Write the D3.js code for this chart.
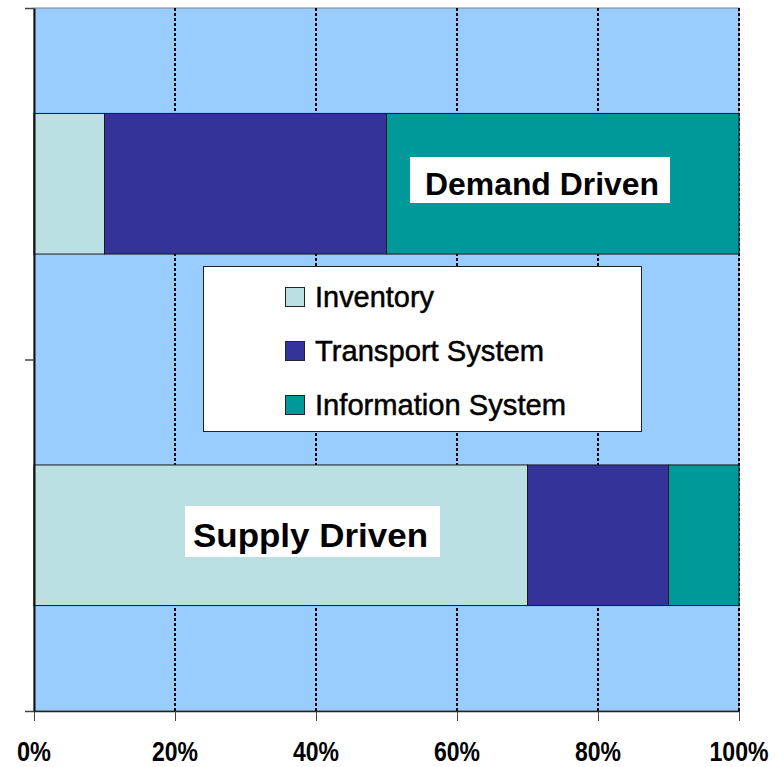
<!DOCTYPE html>
<html>
<head>
<meta charset="utf-8">
<script src="https://cdn.jsdelivr.net/npm/d3@7"></script>
<style>
  body { margin: 0; background: #fff; }
  text { font-family: "Liberation Sans", Arial, sans-serif; }
</style>
</head>
<body>
<div id="chart"></div>
<script>
// stacked 100% bar chart: supply vs demand driven
const categories = ["Demand Driven", "Supply Driven"];
const seriesNames = ["Inventory", "Transport System", "Information System"];
const inventory = [0.10, 0.70];
const transport = [0.40, 0.20];
const information = [0.50, 0.10];
const tickValues = [0, 0.2, 0.4, 0.6, 0.8, 1.0];
const tickLabels = ["0%", "20%", "40%", "60%", "80%", "100%"];

const width = 784;
const height = 767;
const colors = ["#BBE0E3", "#333399", "#009999"];

const svg = d3.select("#chart")
    .append("svg")
    .attr("width", width)
    .attr("height", height);

const xScale = d3.scaleLinear()
    .domain([0, 1])
    .range([34, 739]);

const yScale = d3.scaleBand()
    .domain(categories)
    .range([8, 711])
    .paddingInner(0.6)
    .paddingOuter(0.3);

// plot background
svg.append("rect")
    .attr("x", xScale(0))
    .attr("y", 8)
    .attr("width", xScale(1) - xScale(0))
    .attr("height", 711 - 8)
    .attr("fill", "#99CCFF")
    .attr("stroke", "#808080")
    .attr("stroke-width", 1);

// dotted gridlines
svg.selectAll(".grid")
    .data(tickValues.slice(1))
    .enter()
    .append("line")
    .attr("class", "grid")
    .attr("x1", d => xScale(d))
    .attr("x2", d => xScale(d))
    .attr("y1", 8)
    .attr("y2", 711)
    .attr("stroke", "#000")
    .attr("stroke-width", 2)
    .attr("stroke-dasharray", "3,2");

// stack the data
const rows = categories.map((c, i) => ({
    category: c,
    "Inventory": inventory[i],
    "Transport System": transport[i],
    "Information System": information[i]
}));
const stacked = d3.stack().keys(seriesNames)(rows);

svg.selectAll(".series")
    .data(stacked)
    .enter()
    .append("g")
    .attr("class", "series")
    .attr("fill", (d, i) => colors[i])
    .selectAll("rect")
    .data(d => d)
    .enter()
    .append("rect")
    .attr("x", d => xScale(d[0]))
    .attr("y", d => yScale(d.data.category))
    .attr("width", d => xScale(d[1]) - xScale(d[0]))
    .attr("height", yScale.bandwidth())
    .attr("stroke", "#1a1a1a")
    .attr("stroke-width", 1);

// axes
const xAxis = svg.append("g")
    .attr("transform", "translate(0,711)")
    .call(d3.axisBottom(xScale).tickValues(tickValues).tickSize(10).tickSizeOuter(0).tickFormat(""));
xAxis.select(".domain").attr("stroke", "#222").attr("stroke-width", 1.5);
xAxis.selectAll(".tick line").attr("stroke", "#444");

const catEdges = d3.scaleLinear().domain([0, categories.length]).range([8, 711]);
const yAxis = svg.append("g")
    .attr("transform", "translate(34,0)")
    .call(d3.axisLeft(catEdges).tickValues(d3.range(categories.length + 1)).tickSize(9).tickSizeOuter(0).tickFormat(""));
yAxis.select(".domain").attr("stroke", "#111").attr("stroke-width", 2);
yAxis.selectAll(".tick line").attr("stroke", "#444").attr("stroke-width", 1.5);

// tick labels
const labelWidths = [34, 46, 46, 46, 46, 59];
svg.selectAll(".xlabel")
    .data(tickLabels)
    .enter()
    .append("text")
    .attr("class", "xlabel")
    .attr("x", (d, i) => xScale(tickValues[i]))
    .attr("y", 761)
    .attr("text-anchor", "middle")
    .attr("font-size", 27)
    .attr("font-weight", "bold")
    .attr("textLength", (d, i) => labelWidths[i])
    .attr("lengthAdjust", "spacingAndGlyphs")
    .text(d => d);

// category labels in white boxes
const catLabels = [
    {x: 410, y: 157, w: 260, h: 46, tx: 425, tw: 234, size: 32},
    {x: 185, y: 506, w: 255, h: 51, tx: 193, tw: 235, size: 34}
];
categories.forEach((c, i) => {
    const b = catLabels[i];
    svg.append("rect")
        .attr("x", b.x).attr("y", b.y)
        .attr("width", b.w).attr("height", b.h)
        .attr("fill", "#fff");
    svg.append("text")
        .attr("x", b.tx)
        .attr("y", yScale(c) + yScale.bandwidth() / 2 + b.size * 0.36)
        .attr("font-size", b.size)
        .attr("font-weight", "bold")
        .attr("textLength", b.tw)
        .attr("lengthAdjust", "spacingAndGlyphs")
        .text(c);
});

// legend
svg.append("rect")
    .attr("x", 203.5).attr("y", 266.5)
    .attr("width", 438).attr("height", 165)
    .attr("fill", "#fff")
    .attr("stroke", "#222")
    .attr("stroke-width", 1);

const legendWidths = [119, 229, 251];
const legend = svg.selectAll(".legend")
    .data(seriesNames)
    .enter()
    .append("g")
    .attr("class", "legend")
    .attr("transform", (d, i) => `translate(285,${287 + i * 54})`);

legend.append("rect")
    .attr("x", 0.5).attr("y", 0.5)
    .attr("width", 19).attr("height", 19)
    .attr("fill", (d, i) => colors[i])
    .attr("stroke", "#222")
    .attr("stroke-width", 1);

legend.append("text")
    .attr("x", 30)
    .attr("y", 20)
    .attr("font-size", 30)
    .attr("stroke", "#000")
    .attr("stroke-width", 0.5)
    .attr("textLength", (d, i) => legendWidths[i])
    .attr("lengthAdjust", "spacingAndGlyphs")
    .text(d => d);
</script>
</body>
</html>
